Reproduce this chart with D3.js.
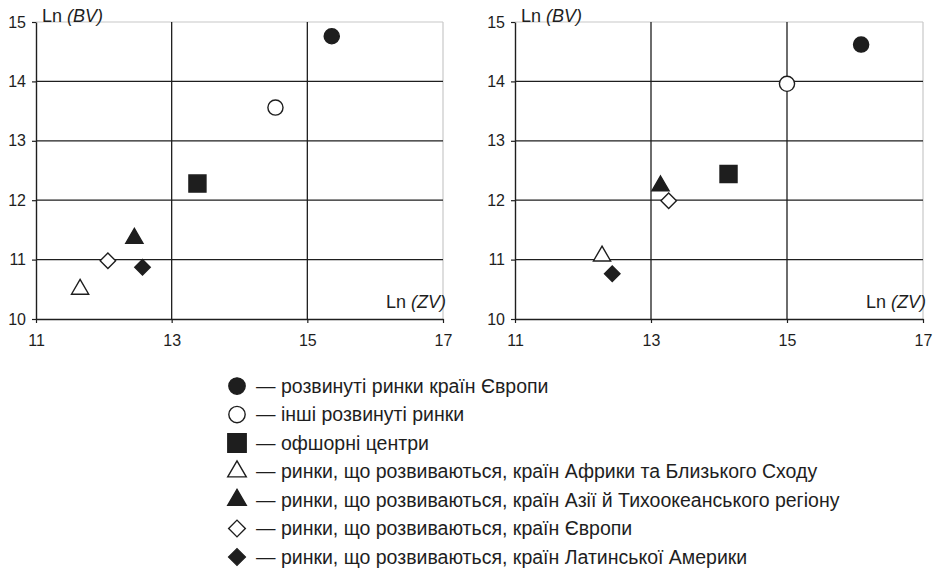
<!DOCTYPE html>
<html>
<head>
<meta charset="utf-8">
<script src="https://cdn.jsdelivr.net/npm/d3@7"></script>
<style>
  html, body { margin: 0; padding: 0; background: #fff; }
  svg { display: block; font-family: "Liberation Sans", Arial, Helvetica, sans-serif; }
</style>
</head>
<body>
<svg id="chart" width="938" height="569"></svg>
<script>
// ---- data ----
const categories = [
  "розвинуті ринки країн Європи",
  "інші розвинуті ринки",
  "офшорні центри",
  "ринки, що розвиваються, країн Африки та Близького Сходу",
  "ринки, що розвиваються, країн Азії й Тихоокеанського регіону",
  "ринки, що розвиваються, країн Європи",
  "ринки, що розвиваються, країн Латинської Америки"
];
const markerTypes = ["circle", "circle", "square", "triangle", "triangle", "diamond", "diamond"];
const markerFilled = [true, false, true, false, true, false, true];

// left panel: Ln(ZV), Ln(BV)
const leftX = [15.36, 14.53, 13.38, 11.65, 12.45, 12.06, 12.57];
const leftY = [14.76, 13.56, 12.28, 10.50, 11.36, 10.98, 10.87];
// right panel
const rightX = [16.09, 15.00, 14.14, 12.28, 13.14, 13.26, 12.43];
const rightY = [14.62, 13.96, 12.44, 11.06, 12.24, 11.99, 10.76];

const xTicks = [11, 13, 15, 17];
const yTicks = [10, 11, 12, 13, 14, 15];
const xDomain = [11, 17];
const yDomain = [10, 15];

// ---- drawing ----
const svg = d3.select("#chart");
const ink = "#1e1e1e";
const lightLine = "#c8c8c8";

function symbolPath(type, scale) {
  const k = scale || 1;
  if (type === "circle") return d3.symbol(d3.symbolCircle, 180 * k * k)();
  if (type === "square") return d3.symbol(d3.symbolSquare, 290 * k * k)();
  if (type === "triangle") return d3.symbol(d3.symbolTriangle, 128 * k * k)();
  return d3.symbol(d3.symbolSquare, 120 * k * k)();
}
function drawMarker(g, i, x, y, scale) {
  const t = markerTypes[i];
  g.append("path")
    .attr("d", symbolPath(t, scale))
    .attr("transform", `translate(${x},${y})` + (t === "diamond" ? " rotate(45)" : ""))
    .attr("fill", markerFilled[i] ? ink : "#fff")
    .attr("stroke", ink)
    .attr("stroke-width", 1.4);
}

function panel(left, right, xs, ys) {
  const top = 22, bottom = 319;
  const x = d3.scaleLinear().domain(xDomain).range([left, right]);
  const y = d3.scaleLinear().domain(yDomain).range([bottom, top]);
  const g = svg.append("g");

  // light frame top / right
  g.append("line").attr("x1", left).attr("x2", right).attr("y1", y(15)).attr("y2", y(15))
    .attr("stroke", lightLine).attr("stroke-width", 1.2);
  g.append("line").attr("x1", right).attr("x2", right).attr("y1", top).attr("y2", bottom)
    .attr("stroke", lightLine).attr("stroke-width", 1.2);

  // grid
  g.selectAll(".hg").data(yTicks.filter(v => v > 10 && v < 15)).join("line")
    .attr("x1", left).attr("x2", right).attr("y1", d => y(d)).attr("y2", d => y(d))
    .attr("stroke", ink).attr("stroke-width", 1.3);
  g.selectAll(".vg").data(xTicks.filter(v => v > 11 && v < 17)).join("line")
    .attr("y1", top).attr("y2", bottom).attr("x1", d => x(d)).attr("x2", d => x(d))
    .attr("stroke", ink).attr("stroke-width", 1.3);

  // axes
  const fmt = d3.format("d");
  const xa = g.append("g").attr("transform", `translate(0,${bottom})`)
    .call(d3.axisBottom(x).tickValues(xTicks).tickFormat(fmt).tickSizeInner(4).tickSizeOuter(0).tickPadding(12));
  const ya = g.append("g").attr("transform", `translate(${left},0)`)
    .call(d3.axisLeft(y).tickValues(yTicks).tickFormat(fmt).tickSizeInner(4).tickSizeOuter(0).tickPadding(6));
  [xa, ya].forEach(a => {
    a.attr("font-size", null).attr("font-family", null);
    a.select(".domain").attr("stroke", ink).attr("stroke-width", 1.4);
    a.selectAll(".tick line").attr("stroke", ink).attr("stroke-width", 1.2);
    a.selectAll(".tick text").attr("fill", ink).style("font-size", "16px");
  });

  // axis titles
  const ty = g.append("text").attr("x", left + 6).attr("y", 22)
    .attr("fill", ink).style("font-size", "18px");
  ty.append("tspan").text("Ln ");
  ty.append("tspan").style("font-style", "italic").text("(BV)");
  const tx = g.append("text").attr("x", right + 3).attr("y", 308).attr("text-anchor", "end")
    .attr("fill", ink).style("font-size", "18px");
  tx.append("tspan").text("Ln ");
  tx.append("tspan").style("font-style", "italic").text("(ZV)");

  // points
  xs.forEach((v, i) => drawMarker(g, i, x(v), y(ys[i]), 1));
}

panel(36, 443, leftX, leftY);
panel(515, 923, rightX, rightY);

// legend
const lg = svg.append("g");
const legY = d3.scalePoint().domain(d3.range(categories.length)).range([386, 557]);
categories.forEach((c, i) => {
  const cy = legY(i);
  drawMarker(lg, i, 237, cy, 1.08);
  lg.append("text").attr("x", 256).attr("y", cy).attr("dy", "0.35em")
    .attr("fill", ink).style("font-size", "19.5px").text("— " + c);
});
</script>
</body>
</html>
